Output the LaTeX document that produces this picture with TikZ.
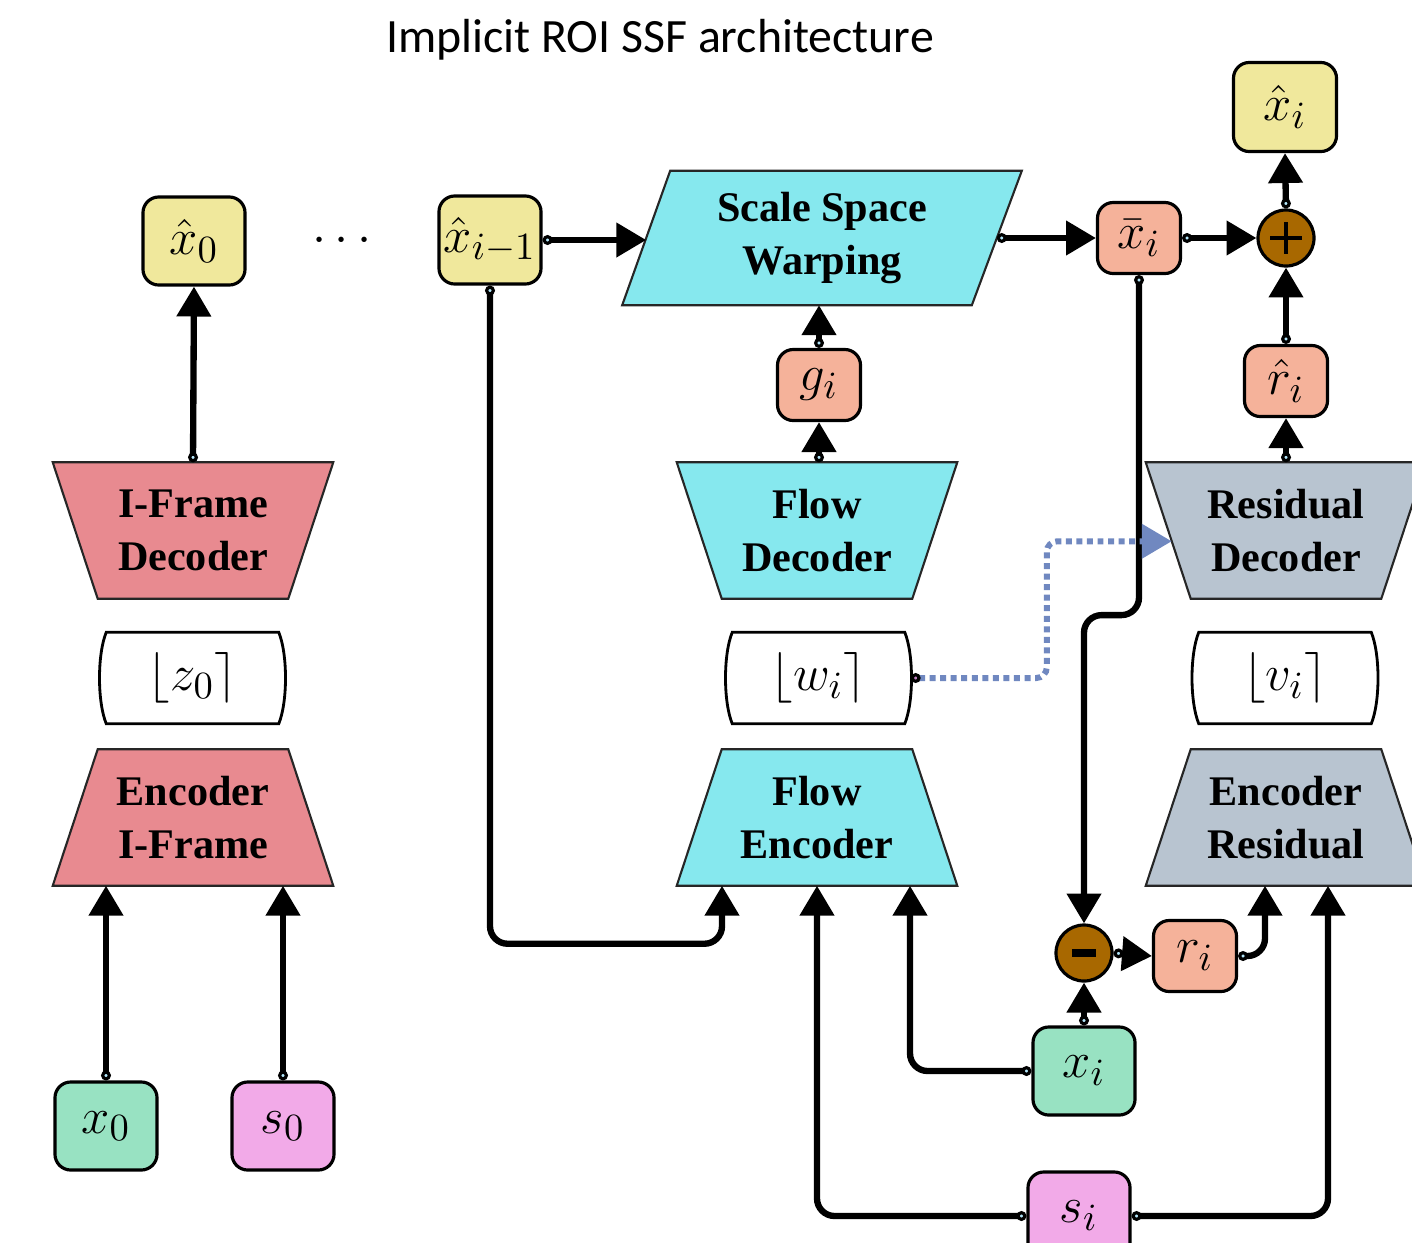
\documentclass[tikz,border=0pt]{standalone}
\usepackage{fontspec}
\newfontfamily\titlefont{Carlito}
\newfontfamily\blockfont{Liberation Serif}
\usetikzlibrary{arrows.meta,calc,backgrounds}

\definecolor{yellowf}{RGB}{240,232,156}
\definecolor{salmonf}{RGB}{245,178,154}
\definecolor{greenf}{RGB}{152,226,194}
\definecolor{pinkf}{RGB}{242,170,232}
\definecolor{redf}{RGB}{232,138,144}
\definecolor{cyanf}{RGB}{134,232,238}
\definecolor{grayf}{RGB}{184,196,208}
\definecolor{brownf}{RGB}{168,104,0}
\definecolor{dotblue}{RGB}{112,136,192}

\newcommand\mathsz{\fontsize{15.5}{18}\selectfont}

% encoder: wide bottom, decoder: wide top
\newcommand\encpoly[2]{\draw[trapline,fill=#2] (#1.south west) -- (#1.south east)
  -- ($(#1.north east)+(-45,0)$) -- ($(#1.north west)+(45,0)$) -- cycle;}
\newcommand\decpoly[2]{\draw[trapline,fill=#2] (#1.north west) -- (#1.north east)
  -- ($(#1.south east)+(-45,0)$) -- ($(#1.south west)+(45,0)$) -- cycle;}
% latent code frame: straight top and bottom, slightly convex sides
\newcommand\latframe[1]{\draw[line width=0.8pt]
  ($(#1.north west)+(6,0)$) -- ($(#1.north east)+(-6,0)$)
  .. controls ($(#1.north east)+(3,22)$) and ($(#1.south east)+(3,-22)$) .. ($(#1.south east)+(-6,0)$)
  -- ($(#1.south west)+(6,0)$)
  .. controls ($(#1.south west)+(-3,-22)$) and ($(#1.north west)+(-3,22)$) .. cycle;}

\begin{document}
\begin{tikzpicture}[x=0.01cm,y=-0.01cm,
  box/.style={draw, line width=0.9pt, rounded corners=4.5pt, inner sep=0pt,
    font=\mathsz, minimum width=1.02cm, minimum height=0.88cm},
  sbox/.style={box, minimum width=0.83cm, minimum height=0.71cm},
  lat/.style={inner sep=0pt, minimum width=1.83cm, minimum height=0.9cm, font=\mathsz},
  blk/.style={inner sep=0pt, minimum width=2.79cm, minimum height=1.35cm,
    align=center, font={\blockfont\bfseries\fontsize{12}{15}\selectfont}},
  trapline/.style={draw=black!85, line width=0.6pt},
  op/.style={circle, draw, fill=brownf, line width=0.9pt, minimum size=0.56cm,
    inner sep=0pt},
  plussign/.style={path picture={\draw[line width=1.3pt]
    (path picture bounding box.center) +(-16,0) -- +(16,0) +(0,-16) -- +(0,16);}},
  minussign/.style={path picture={\draw[line width=2.4pt]
    (path picture bounding box.center) +(-12,0) -- +(12,0);}},
  conn/.style={line width=1.8pt, rounded corners=5pt,
    {Circle[length=2.8pt,fill=cyan!30,line width=0.9pt]}-{Triangle[length=8.5pt,width=9.5pt]}},
  dotconn/.style={dotblue, line width=1.7pt, dash pattern=on 1.7pt off 1.3pt,
    rounded corners=3pt,
    {Circle[length=2.8pt,fill=violet!50,line width=0.9pt,color=black]}-{Triangle[length=8.5pt,width=9.5pt]}}
]
\useasboundingbox (0,0) rectangle (1412,1242);
\clip (0,0) rectangle (1412,1242);

\node[font={\titlefont\fontsize{13.6}{16}\selectfont}] (title) at (660,40)
  {Implicit ROI SSF architecture};

% I-frame branch
\node[box, fill=yellowf] (xh0) at (194,241) {$\hat{x}_0$};
\node[font=\mathsz] (dots) at (342,241) {$\cdots$};
\node[blk] (idec) at (193,530.5) {I-Frame\\Decoder};
\node[lat] (zlat) at (192.5,678) {$\lfloor z_0 \rceil$};
\node[blk] (ienc) at (193,817.5) {Encoder\\I-Frame};
\node[box, fill=greenf] (x0) at (106,1126) {$x_0$};
\node[box, fill=pinkf] (s0) at (283,1126) {$s_0$};

% P-frame branch
\node[box, fill=yellowf] (xhim1) at (490,240) {$\hat{x}_{i-1}$};
\node[blk, minimum width=3.98cm, minimum height=1.33cm] (ssw) at (822,238)
  {Scale Space\\Warping};
\node[sbox, fill=salmonf] (gi) at (819,385) {$g_i$};
\node[blk] (fdec) at (817,530.5) {Flow\\Decoder};
\node[lat] (wlat) at (818.5,678) {$\lfloor w_i \rceil$};
\node[blk] (fenc) at (817,817.5) {Flow\\Encoder};

\node[sbox, fill=salmonf] (xbar) at (1139,238) {$\bar{x}_i$};
\node[op, plussign] (plus) at (1286,238) {};
\node[box, fill=yellowf, minimum width=1.03cm, minimum height=0.89cm] (xhat) at (1285,107) {$\hat{x}_i$};
\node[sbox, fill=salmonf] (rhat) at (1286,381) {$\hat{r}_i$};
\node[blk] (rdec) at (1286,530.5) {Residual\\Decoder};
\node[lat] (vlat) at (1285,678) {$\lfloor v_i \rceil$};
\node[blk] (renc) at (1286,817.5) {Encoder\\Residual};
\node[op, minussign] (minus) at (1084,953) {};
\node[sbox, fill=salmonf] (ri) at (1195,956) {$r_i$};
\node[box, fill=greenf] (xi) at (1084,1071) {$x_i$};
\node[box, fill=pinkf] (si) at (1079,1216) {$s_i$};

% block outlines behind their labels
\begin{scope}[on background layer]
  \decpoly{idec}{redf}
  \encpoly{ienc}{redf}
  \decpoly{fdec}{cyanf}
  \encpoly{fenc}{cyanf}
  \decpoly{rdec}{grayf}
  \encpoly{renc}{grayf}
  \draw[trapline,fill=cyanf] ($(ssw.north west)+(48,0)$) -- (ssw.north east)
    -- ($(ssw.south east)+(-50,0)$) -- (ssw.south west) -- cycle;
\end{scope}
\latframe{zlat}
\latframe{wlat}
\latframe{vlat}

% ports on slanted block sides
\coordinate (sswL) at ($(ssw.west)+(24,0)$);
\coordinate (sswR) at ($(ssw.east)+(-25,0)$);
\coordinate (rdecL) at ($(rdec.north west)+(26,79)$);
\coordinate (fencA) at ($(fenc.south)+(-95,0)$);
\coordinate (fencC) at ($(fenc.south)+(93,0)$);
\coordinate (rencA) at ($(renc.south)+(-21,0)$);
\coordinate (rencB) at ($(renc.south)+(42,0)$);

% I-frame connectors
\draw[conn] (idec.north) -- (xh0.south);
\draw[conn] (x0.north) -- (x0.north |- ienc.south);
\draw[conn] (s0.north) -- (s0.north |- ienc.south);

% P-frame connectors
\draw[conn] (xhim1.east) -- (xhim1.east -| sswL);
\draw[conn] (sswR) -- (xbar.west);
\draw[conn] (xbar.east) -- (plus.west);
\draw[conn] (plus.north) -- (xhat.south);
\draw[conn] (rhat.north) -- (plus.south);
\draw[conn] (rdec.north) -- (rhat.south);
\draw[conn] (gi.north) -- (gi.north |- ssw.south);
\draw[conn] (gi.south |- fdec.north) -- (gi.south);
\draw[conn] (xhim1.south) |- ($(fencA)+(0,58)$) -- (fencA);
\draw[conn] (si.west) -| (fenc.south);
\draw[conn] (si.east) -| (rencB);
\draw[conn] (xi.west) -| (fencC);
\draw[conn] (xi.north) -- (minus.south);
\draw[conn] (xbar.south) -- ++(0,340) -| (minus.north);
\draw[conn] (minus.east) -- (ri.west);
\draw[conn] (ri.east) -| (rencA);
\draw[dotconn] (wlat.east) -- ++(136,0) |- (rdecL);
\end{tikzpicture}
\end{document}
